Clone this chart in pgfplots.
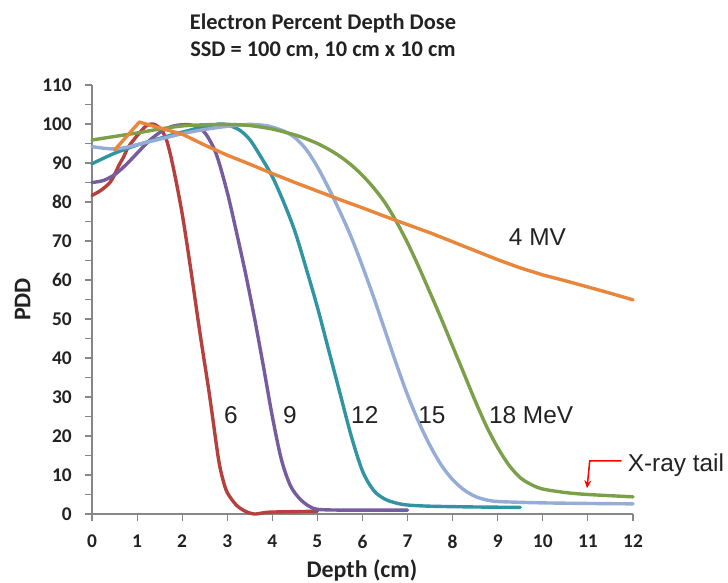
\documentclass[border=0pt]{standalone}
\usepackage{fontspec}
\setmainfont{Carlito}
\newfontfamily\arialfont{Liberation Sans}
\usepackage{pgfplots}
\pgfplotsset{compat=1.18}
\usetikzlibrary{arrows.meta}

\definecolor{c6}{RGB}{181,64,61}
\definecolor{c9}{RGB}{118,91,158}
\definecolor{c12}{RGB}{48,148,163}
\definecolor{c15}{RGB}{149,172,214}
\definecolor{c18}{RGB}{124,160,74}
\definecolor{c4}{RGB}{232,134,60}
\definecolor{axgray}{RGB}{134,134,134}
\definecolor{labelc}{RGB}{34,34,34}

\begin{document}
\begin{tikzpicture}
\begin{axis}[
  name=ax,
  scale only axis, width=541bp, height=429bp,
  xmin=0, xmax=12, ymin=0, ymax=110,
  axis lines*=left,
  xtick={0,1,...,12}, ytick={0,10,...,110},
  minor ytick={5,15,...,105},
  tick align=outside, major tick length=7bp, minor tick length=7bp,
  axis line style={draw=axgray, line width=1.3bp},
  minor tick style={draw=axgray, line width=1.1bp},
  major tick style={draw=axgray, line width=1.1bp},
  ticklabel style={font=\fontsize{19.5}{20}\selectfont\bfseries, text=labelc},
  /pgf/number format/assume math mode=true,
  yticklabel style={anchor=east, inner sep=0pt, xshift=-13bp},
  xticklabel style={anchor=north, inner sep=0pt, yshift=-14bp},
  clip=false,
  every axis plot/.append style={line width=3.4bp, line join=round, line cap=round},
]
% 6 MeV
\addplot[c6, smooth, tension=0.5] coordinates {
(0,81.7) (0.2,83) (0.4,85) (0.5,87) (0.6,89.5) (0.7,91.5) (0.8,94) (1.0,97)
(1.2,99.5) (1.35,100) (1.5,99) (1.65,96) (1.8,89) (2.0,77) (2.2,62) (2.4,46)
(2.6,31) (2.8,14.5) (2.9,9) (3.0,5.5) (3.2,2.3) (3.4,0.7) (3.6,0.0) (3.8,0.3)
(4.0,0.5) (5.0,0.7)};
% 9 MeV
\addplot[c9, smooth, tension=0.5] coordinates {
(0,85) (0.25,85.5) (0.5,87) (0.75,89.5) (1.0,92.5) (1.25,95.5) (1.5,97.8)
(1.75,99.3) (2.0,99.8) (2.25,99.6) (2.5,97.8) (2.75,92.5) (3.0,82.5) (3.2,72.5)
(3.4,62) (3.6,50.5) (3.8,38) (4.0,25) (4.2,14) (4.4,7.3) (4.6,4) (4.8,2.1)
(5.0,1.2) (5.5,1) (6.0,1) (7.0,1)};
% 12 MeV
\addplot[c12, smooth, tension=0.5] coordinates {
(0,89.8) (0.5,92.5) (1.0,94.6) (1.5,96.3) (2.0,97.9) (2.5,99.3) (2.9,100)
(3.25,98.6) (3.5,96) (3.75,91.5) (4.0,86.5) (4.25,80) (4.5,72.5) (4.75,63)
(5.0,53) (5.25,42) (5.5,31) (5.75,20) (6.0,11) (6.25,6) (6.5,3.8)
(6.75,2.8) (7.0,2.3) (7.5,2) (8.5,1.8) (9.5,1.7)};
% 15 MeV
\addplot[c15, smooth, tension=0.5] coordinates {
(0,94.2) (0.25,93.8) (0.5,93.6) (0.75,94) (1.0,94.7) (1.5,96.1) (2.0,97.5)
(2.5,98.6) (3.0,99.4) (3.5,99.9) (3.9,99.5) (4.25,98.2) (4.5,96.5) (4.75,93.5)
(5.0,89) (5.25,83.5) (5.5,77.5) (5.75,71) (6.0,63.5) (6.25,55.5) (6.5,47)
(6.75,38.5) (7.0,30.5) (7.25,23.5) (7.5,17.5) (7.75,12.5) (8.0,8.8) (8.25,6.2)
(8.5,4.5) (8.75,3.6) (9.0,3.2) (9.5,3.0) (10,2.85) (11,2.7) (12,2.6)};
% 18 MeV
\addplot[c18, smooth, tension=0.5] coordinates {
(0,95.9) (0.5,96.8) (1.0,97.7) (1.5,98.7) (2.0,99.5) (2.5,99.8) (3.0,99.9)
(3.5,99.6) (4.0,98.7) (4.5,97.2) (4.75,96.2) (5.0,95) (5.25,93.5) (5.5,91.7)
(5.75,89.5) (6.0,86.8) (6.25,83.6) (6.5,79.8) (6.75,75) (7.0,69.5) (7.25,63.3)
(7.5,56.7) (7.75,50) (8.0,43) (8.25,36) (8.5,29) (8.75,22.5) (9.0,17)
(9.25,12.5) (9.5,9.3) (9.75,7.5) (10.0,6.4) (10.5,5.5) (11.0,5.0) (12.0,4.4)};
% 4 MV
\addplot[c4] coordinates {
(0.5,93.3) (1.05,100.5) (1.5,99) (2.0,97.4) (2.5,94.6) (3.0,92) (3.5,89.7)
(4.0,87.3) (4.5,85) (5.0,82.8) (5.5,80.6) (6.0,78.5) (6.5,76.3) (7.0,74.2)
(7.5,72.1) (8.0,69.8) (8.5,67.5) (9.0,65.2) (9.5,63.1) (10.0,61.3)
(10.5,59.8) (11.0,58.2) (11.5,56.6) (12.0,54.9)};

\begin{scope}[every node/.style={font=\arialfont\fontsize{24.5}{26}\selectfont, text=labelc, inner sep=0pt}]
\node[anchor=base] at (axis cs:3.08,23.2) {6};
\node[anchor=base] at (axis cs:4.39,23.2) {9};
\node[anchor=base] at (axis cs:6.05,23.2) {12};
\node[anchor=base] at (axis cs:7.54,23.2) {15};
\node[anchor=base] at (axis cs:9.74,23.2) {18 MeV};
\node[anchor=base] at (axis cs:9.88,68.8) {4 MV};
\node[anchor=base west] at (axis cs:11.88,10.8) {X-ray tail};
\end{scope}
\draw[red, line width=1.5bp, -{Stealth[length=8bp,width=7bp]}]
  (axis cs:11.75,13.6) -- (axis cs:11.04,13.6) -- (axis cs:10.98,6.6);
\end{axis}
% labels and title
\node[font=\fontsize{24}{26}\selectfont\bfseries, text=labelc, anchor=base]
  at ([shift={(270bp,-63bp)}]ax.south west) {Depth (cm)};
\node[font=\fontsize{24}{26}\selectfont\bfseries, text=labelc, rotate=90, anchor=center]
  at ([shift={(-69.5bp,214.5bp)}]ax.south west) {PDD};
\node[font=\fontsize{22.5}{27}\selectfont\bfseries, text=labelc, align=center, anchor=center]
  at ([shift={(231bp,477bp)}]ax.south west) {Electron Percent Depth Dose\\SSD = 100 cm, 10 cm x 10 cm};
\pgfresetboundingbox
\path[use as bounding box] ([shift={(-92bp,-69bp)}]ax.south west) rectangle ++(728bp,583bp);
\end{tikzpicture}
\end{document}
